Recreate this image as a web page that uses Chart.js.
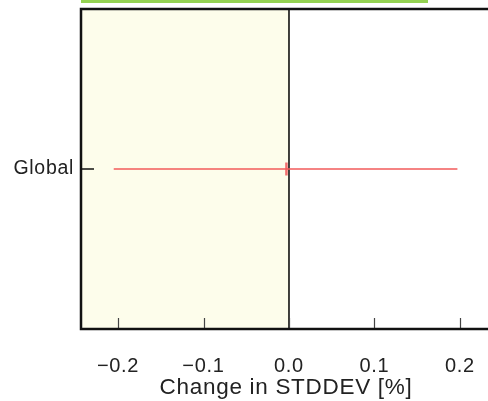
<!DOCTYPE html>
<html>
<head>
<meta charset="utf-8">
<script src="https://cdn.jsdelivr.net/npm/chart.js@4/dist/chart.umd.min.js"></script>
<style>
  html, body { margin: 0; padding: 0; background: #ffffff; overflow: hidden; width: 488px; height: 401px; }
  #c { display: block; }
</style>
</head>
<body>
<canvas id="c" width="510" height="401" style="width:510px;height:401px"></canvas>
<script>
// ---- data ----
const categories = ['Global'];
const meanChange = [-0.003];
const lowChange = [-0.205];
const highChange = [0.197];
const xTickValues = [-0.2, -0.1, 0.0, 0.1, 0.2];
const xAxisTitle = 'Change in STDDEV [%]';

const FONT = '"Liberation Sans", Arial, Helvetica, sans-serif';
const RED = '#f25a5a';

const datasets = [];
categories.forEach((c, i) => {
  datasets.push({
    type: 'line',
    data: [{ x: lowChange[i], y: c }, { x: highChange[i], y: c }],
    borderColor: RED,
    borderWidth: 1.5,
    pointRadius: 0,
    fill: false
  });
  datasets.push({
    type: 'scatter',
    data: [{ x: meanChange[i], y: c }],
    pointStyle: 'line',
    rotation: 90,
    radius: 6.5,
    borderColor: '#f26e6e',
    borderWidth: 2.5,
    backgroundColor: '#f26e6e'
  });
});

const spacing = {
  id: 'spacing',
  beforeUpdate(chart) { chart.ctx.letterSpacing = '0.7px'; },
  beforeDraw(chart) { chart.ctx.letterSpacing = '0.7px'; }
};

const decor = {
  id: 'decor',
  beforeDatasetsDraw(chart) {
    const { ctx, chartArea: a, scales } = chart;
    const x0 = scales.x.getPixelForValue(0);
    ctx.save();
    ctx.fillStyle = '#fdfdeb';
    ctx.fillRect(a.left, a.top, x0 - a.left, a.bottom - a.top);
    ctx.strokeStyle = '#000';
    ctx.lineWidth = 1.5;
    ctx.beginPath();
    ctx.moveTo(x0, a.top);
    ctx.lineTo(x0, a.bottom);
    ctx.stroke();
    // inward x ticks
    ctx.strokeStyle = '#444';
    ctx.lineWidth = 1.2;
    scales.x.ticks.forEach(t => {
      const px = Math.round(scales.x.getPixelForValue(t.value)) + 0.5;
      ctx.beginPath();
      ctx.moveTo(px, a.bottom);
      ctx.lineTo(px, a.bottom - 11);
      ctx.stroke();
    });
    // inward y ticks
    ctx.strokeStyle = '#111';
    ctx.lineWidth = 1.5;
    categories.forEach((c, i) => {
      const py = scales.y.getPixelForValue(i);
      ctx.beginPath();
      ctx.moveTo(a.left, py);
      ctx.lineTo(a.left + 13, py);
      ctx.stroke();
    });
    ctx.restore();
  },
  afterDraw(chart) {
    const { ctx, chartArea: a } = chart;
    ctx.save();
    ctx.strokeStyle = '#111';
    ctx.lineWidth = 2.5;
    ctx.strokeRect(a.left, a.top, a.right - a.left, a.bottom - a.top);
    // green band at top
    ctx.fillStyle = '#94d252';
    ctx.fillRect(81, 0, 347, 3);
    ctx.restore();
  }
};

new Chart(document.getElementById('c'), {
  data: { datasets },
  options: {
    responsive: false,
    animation: false,
    devicePixelRatio: 1,
    layout: { padding: { top: 9, left: 0, right: 19, bottom: 0 } },
    plugins: { legend: { display: false }, tooltip: { enabled: false } },
    scales: {
      x: {
        type: 'linear',
        min: -0.2433,
        max: 0.2363,
        afterBuildTicks: s => { s.ticks = xTickValues.map(v => ({ value: v })); },
        afterFit: s => { s.height = 72; s.paddingLeft = 0; s.paddingRight = 0; },
        grid: { display: false, drawTicks: false },
        border: { display: false },
        ticks: {
          padding: 25.5,
          color: '#222',
          font: { family: FONT, size: 20 },
          maxRotation: 0,
          autoSkip: false,
          callback: v => (v < -1e-9 ? '\u2212' : '') + Math.abs(v).toFixed(1)
        },
        title: {
          display: true,
          text: xAxisTitle,
          color: '#222',
          font: { family: FONT, size: 22.5 },
          padding: { top: 0, bottom: 0 }
        }
      },
      y: {
        type: 'category',
        labels: categories,
        offset: true,
        afterFit: s => { s.width = 81; s.paddingTop = 0; s.paddingBottom = 0; },
        grid: { display: false, drawTicks: false },
        border: { display: false },
        ticks: {
          padding: 7,
          color: '#222',
          font: { family: FONT, size: 19.5 }
        }
      }
    }
  },
  plugins: [spacing, decor]
});
</script>
</body>
</html>
